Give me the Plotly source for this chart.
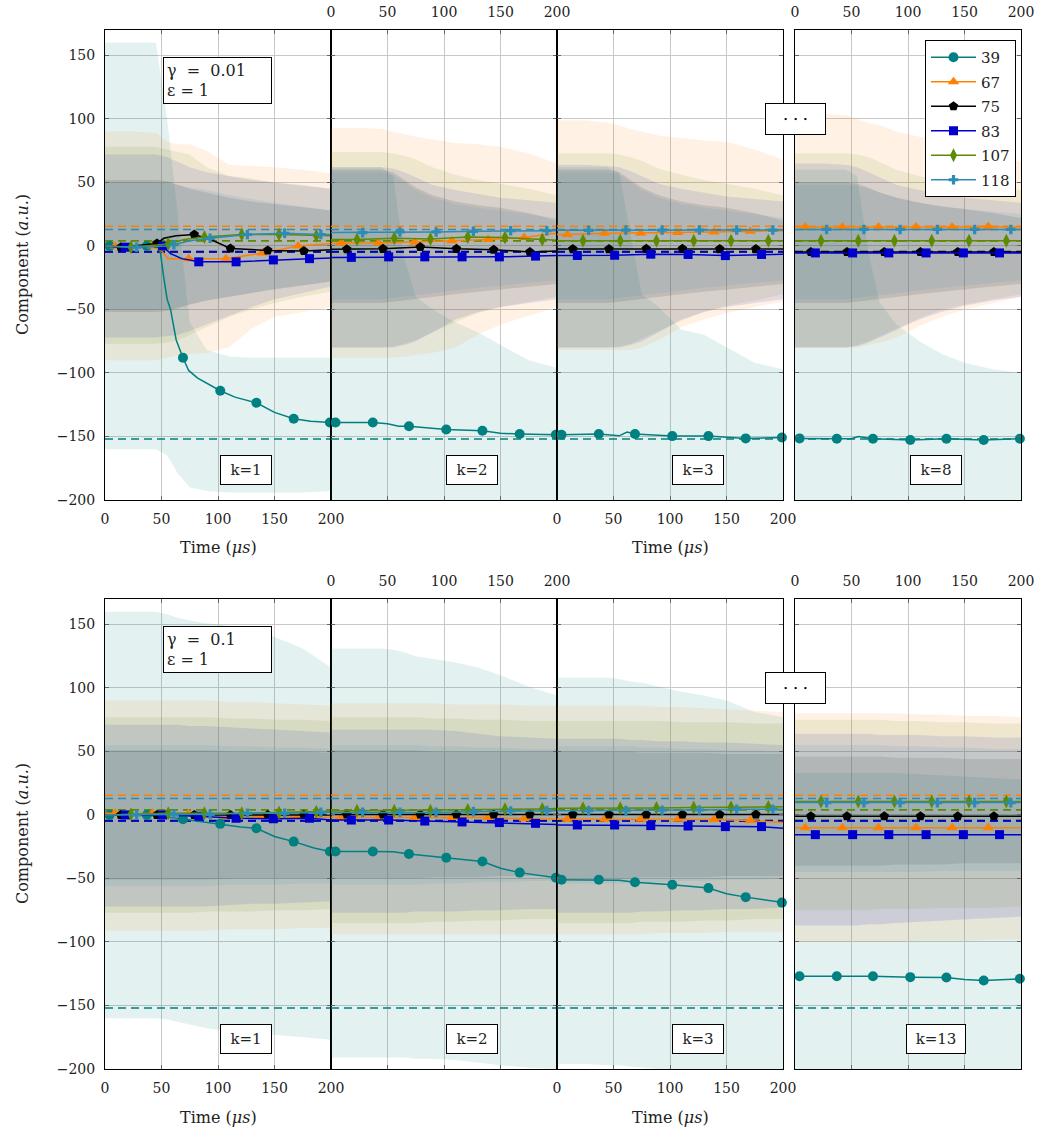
import plotly.graph_objects as go

W, H = 1054, 1129

# ---------------- series definitions ----------------
SERIES = ["39", "67", "75", "83", "107", "118"]
COLORS = ["#008080", "#FF8000", "#000000", "#0000CC", "#5E8A00", "#2C8CB4"]
FILLS = ["rgba(0,128,128,0.11)", "rgba(255,128,0,0.10)", "rgba(0,0,0,0.10)",
         "rgba(0,0,204,0.10)", "rgba(94,138,0,0.10)", "rgba(44,140,180,0.10)"]
SYMBOLS = ["circle", "triangle-up", "pentagon", "square", "diamond-tall", "cross"]
MSIZES = [10, 10, 10, 9, 10, 8]
TRUE_VALUES = [-152, 15.5, -4.5, -4.7, 4, 13]

MT_39 = [4, 37, 69, 102, 134, 167, 199]
MT_67 = [9, 42, 74, 107, 139, 171]
MT_75 = [14, 46, 79, 111, 144, 176]
MT_83 = [18, 51, 83, 116, 149, 181]
MT_107 = [23, 56, 88, 121, 154, 187]
MT_118 = [28, 61, 93, 126, 159, 191]

X_TICKS = [0, 50, 100, 150, 200]
Y_TICKS = [-200, -150, -100, -50, 0, 50, 100, 150]
PANEL_LABELS_TOP = ["k=1", "k=2", "k=3", "k=8"]
PANEL_LABELS_BOT = ["k=1", "k=2", "k=3", "k=13"]
GAMMA_TEXT = ["γ&nbsp;&nbsp;=&nbsp;&nbsp;0.01", "γ&nbsp;&nbsp;=&nbsp;&nbsp;0.1"]
EPS_TEXT = "ε = 1"

# ---------------- top row (gamma = 0.01): estimate lines ----------------
TOP_T_39 = [
    [0, 4, 37, 46, 49, 52, 55, 58, 63, 69, 74, 82, 102, 115, 134, 150, 167, 182, 199, 200],
    [0, 4, 37, 50, 60, 69, 102, 134, 150, 167, 199, 200],
    [0, 4, 37, 55, 62, 69, 102, 134, 167, 199, 200],
    [0, 4, 37, 50, 56, 69, 102, 134, 167, 199, 200],
]
TOP_Y_39 = [
    [0, 0, 0, -1, -5, -25, -42, -50, -74, -88, -98, -104, -114, -119, -123.5, -131, -136, -138, -139, -139],
    [-139, -139, -139, -140, -142, -142, -144.5, -145.5, -147.5, -148, -148.6, -148.6],
    [-148.6, -148.6, -148, -149.5, -146.5, -148, -149.7, -149.7, -151.5, -150.8, -150.8],
    [-151.5, -151.5, -151.8, -151.8, -150, -151.8, -152.8, -151.8, -152.8, -151.8, -151.8],
]
TOP_T_67 = [
    [0, 9, 42, 50, 56, 74, 107, 139, 171, 200],
    [0, 9, 42, 74, 107, 139, 171, 190, 200],
    [0, 9, 42, 74, 107, 139, 171, 200],
    [0, 9, 42, 74, 107, 139, 171, 200],
]
TOP_Y_67 = [
    [0, 0, 0, -4, -10, -10, -10, -5.5, 0, 2],
    [2, 2.4, 2.4, 3, 4, 5, 6.6, 9, 10],
    [9, 9, 10, 10, 10.5, 11, 11.5, 12],
    [15, 15, 15, 15, 15, 15, 15.3, 15],
]
TOP_T_75 = [
    [0, 14, 46, 52, 63, 79, 95, 111, 144, 176, 200],
    [0, 14, 46, 79, 111, 144, 176, 200],
    [0, 14, 46, 79, 111, 144, 176, 200],
    [0, 14, 46, 79, 111, 144, 176, 200],
]
TOP_Y_75 = [
    [0, -1, 2, 6, 8, 9, 4.5, -2, -3.5, -4, -3],
    [-2.6, -2.6, -2.3, -0.8, -2.3, -3, -4.7, -4],
    [-2.5, -2.5, -2.5, -2.3, -2.3, -2.5, -2.5, -2.5],
    [-4.7, -4.7, -4.7, -4.7, -4.7, -4.7, -4.7, -4.7],
]
TOP_T_83 = [
    [0, 18, 51, 58, 68, 83, 116, 149, 181, 200],
    [0, 18, 51, 83, 116, 149, 181, 200],
    [0, 18, 51, 83, 116, 149, 181, 200],
    [0, 18, 51, 83, 116, 149, 181, 200],
]
TOP_Y_83 = [
    [0, -1, 0, -6, -10, -12.5, -12.5, -11, -10, -9.5],
    [-9, -9, -8.6, -8.6, -8.6, -8.6, -8, -7.5],
    [-7.5, -7.5, -7.3, -6.5, -6.7, -7.6, -6.7, -6.5],
    [-5.5, -5.5, -5.5, -5.5, -5.5, -5.5, -5.5, -5.5],
]
TOP_T_107 = [
    [0, 23, 56, 70, 88, 121, 154, 187, 200],
    [0, 23, 56, 88, 121, 154, 187, 200],
    [0, 23, 56, 88, 121, 154, 187, 200],
    [0, 23, 56, 88, 121, 154, 187, 200],
]
TOP_Y_107 = [
    [0, -1, 1.5, 5, 7, 9, 9, 8, 8],
    [5, 5, 6, 5.5, 7, 6.6, 5, 4.5],
    [4, 4, 4, 4, 4, 4, 4, 4],
    [4, 4, 4, 4, 4, 4, 4, 4],
]
TOP_T_118 = [
    [0, 28, 55, 61, 75, 93, 126, 159, 191, 200],
    [0, 28, 61, 93, 126, 159, 191, 200],
    [0, 28, 61, 93, 126, 159, 191, 200],
    [0, 28, 61, 93, 126, 159, 191, 200],
]
TOP_Y_118 = [
    [0, -1, 0, 1, 4, 6, 9, 10, 9, 9],
    [10.5, 10.5, 11, 11, 11.5, 12, 12, 12],
    [12.3, 12.3, 12.5, 12.5, 12.5, 12.5, 12.5, 12.5],
    [13, 13, 13, 13, 13, 13, 13, 13],
]

# ---------------- bottom row (gamma = 0.1): estimate lines ----------------
BOT_T_39 = [
    [0, 4, 37, 50, 69, 102, 120, 134, 150, 167, 185, 199, 200],
    [0, 4, 37, 55, 69, 102, 134, 150, 167, 199, 200],
    [0, 4, 37, 55, 69, 102, 134, 150, 167, 199, 200],
    [0, 4, 37, 69, 102, 134, 150, 167, 199, 200],
]
BOT_Y_39 = [
    [0, 0, 0, -1, -3.4, -7, -9.5, -10.5, -17, -21, -26, -28.8, -29],
    [-29, -28.8, -28.8, -29, -30.7, -33.6, -36.7, -42, -45.4, -49.5, -50],
    [-51, -51, -51, -51.5, -53, -55, -57.6, -62, -64.7, -69, -69],
    [-127, -127, -127, -127, -127.7, -128, -129.5, -130.3, -129, -129],
]
BOT_T_67 = [[0, 9, 42, 74, 107, 139, 171, 200]] * 4
BOT_Y_67 = [
    [1.3, 1.3, 1.3, 1, -1, -1, -1.5, -2],
    [-2, -2, -2, -2, -2, -2, -3, -3.4],
    [-3.4, -3.4, -3.4, -3.4, -3.4, -3.6, -4.4, -6],
    [-10, -10, -10, -10, -10, -10, -10, -10],
]
BOT_T_75 = [[0, 14, 46, 79, 111, 144, 176, 200]] * 4
BOT_Y_75 = [
    [0, 0, 0, 0, 0, 0, 0, 0],
    [0.3, 0.3, 0.3, 0.3, 0.3, 0.3, 0.3, 0.3],
    [0.3, 0.3, 0.3, 0.3, 0.3, 0.3, 0.3, 0.3],
    [-1, -1, -1, -1, -1, -1, -1, -1],
]
BOT_T_83 = [[0, 18, 51, 83, 116, 149, 181, 200]] * 4
BOT_Y_83 = [
    [0, 0, 0, -1, -2.6, -3, -2.6, -4],
    [-4, -4, -4, -4.8, -5.5, -6, -6.6, -7.5],
    [-7.9, -7.9, -7.9, -8.4, -8.7, -9.2, -9.2, -10.5],
    [-15.5, -15.5, -15.5, -15.5, -15.5, -15.5, -15.5, -15.5],
]
BOT_T_107 = [[0, 23, 56, 88, 121, 154, 187, 200]] * 4
BOT_Y_107 = [
    [0, 0.5, 1.3, 1.3, 1.3, 2, 2.6, 3],
    [3.2, 3.4, 3.4, 3.4, 3.9, 4.5, 4.7, 5],
    [5.2, 5.2, 5.2, 5.5, 5.8, 6, 6.3, 6.5],
    [10.5, 10.5, 10.5, 10.5, 10.5, 10.5, 10.5, 10.5],
]
BOT_T_118 = [[0, 28, 61, 93, 126, 159, 191, 200]] * 4
BOT_Y_118 = [
    [0, 0, 0.5, 0.5, 1.3, 1.3, 2, 2],
    [2, 2, 2, 2, 2.6, 3.1, 3.4, 3.4],
    [3.4, 3.4, 3.4, 3.7, 3.9, 4.5, 4.5, 4.5],
    [9.7, 9.7, 9.7, 9.7, 9.7, 9.7, 9.7, 9.7],
]

# ---------------- uncertainty bands ----------------
BAND_T = [0, 25, 45, 55, 65, 75, 90, 110, 130, 150, 175, 200]

TOP_UP_39 = [
    [160, 160, 160, 100, 20, -60, -82, -87, -88, -88, -88, -88],
    [62, 62, 62, 55, -10, -40, -50, -60, -68, -78, -90, -96],
    [62, 62, 62, 58, 10, -38, -48, -66, -70, -80, -92, -97],
    [60, 60, 60, 55, -5, -45, -62, -75, -85, -92, -97, -100],
]
TOP_LO_39 = [
    [-160, -160, -160, -165, -180, -190, -193, -194, -194, -194, -194, -193],
    [-230] * 12, [-230] * 12, [-230] * 12,
]
TOP_UP_67 = [
    [90, 90, 89, 82, 80, 80, 75, 64, 63, 62, 60, 57],
    [93, 93, 92, 90, 88, 86, 84, 81, 80, 78, 73, 65],
    [99, 99, 97, 95, 92, 90, 87, 85, 83, 82, 76, 68],
    [104, 104, 103, 100, 97, 95, 90, 86, 83, 80, 73, 66],
]
TOP_LO_67 = [
    [-90, -90, -90, -88, -86, -85, -84, -80, -65, -56, -52, -48],
    [-88, -88, -88, -88, -87, -86, -84, -80, -70, -62, -55, -48],
    [-82, -82, -82, -82, -82, -80, -74, -64, -58, -53, -48, -44],
    [-80, -80, -80, -80, -78, -76, -72, -63, -56, -50, -45, -40],
]
TOP_UP_75 = [
    [52, 52, 52, 51, 48, 45, 42, 38, 35, 33, 30, 28],
    [60, 60, 60, 58, 52, 46, 40, 35, 32, 30, 26, 20],
    [60, 60, 60, 58, 52, 46, 40, 35, 32, 30, 26, 20],
    [50, 50, 50, 49, 46, 42, 38, 34, 31, 29, 26, 22],
]
TOP_LO_75 = [
    [-52, -52, -52, -51, -49, -46, -43, -40, -37, -34, -31, -28],
    [-45, -45, -45, -44, -43, -42, -40, -38, -36, -34, -32, -30],
    [-45, -45, -45, -44, -43, -42, -40, -38, -36, -34, -32, -30],
    [-45, -45, -45, -44, -43, -42, -40, -38, -36, -34, -32, -30],
]
TOP_UP_83 = [
    [72, 72, 72, 70, 66, 62, 58, 55, 52, 50, 48, 45],
    [62, 62, 62, 61, 58, 54, 48, 44, 41, 38, 36, 34],
    [64, 64, 63, 62, 59, 55, 49, 45, 42, 39, 37, 35],
    [65, 65, 64, 62, 58, 54, 48, 44, 41, 38, 36, 34],
]
TOP_LO_83 = [
    [-72, -72, -72, -71, -70, -67, -62, -55, -48, -42, -37, -32],
    [-80, -80, -80, -80, -78, -75, -68, -58, -52, -48, -45, -42],
    [-80, -80, -80, -80, -78, -75, -68, -58, -52, -48, -45, -42],
    [-80, -80, -80, -79, -76, -72, -66, -58, -52, -47, -43, -40],
]
TOP_UP_107 = [
    [78, 78, 78, 76, 74, 72, 62, 55, 53, 50, 47, 45],
    [74, 74, 74, 73, 71, 68, 62, 56, 52, 49, 45, 40],
    [73, 73, 73, 72, 70, 67, 61, 56, 52, 49, 45, 40],
    [73, 73, 73, 72, 70, 66, 60, 55, 51, 48, 46, 44],
]
TOP_LO_107 = [
    [-77, -77, -77, -76, -74, -70, -64, -56, -50, -45, -40, -36],
    [-80, -80, -80, -79, -77, -74, -68, -60, -53, -48, -44, -40],
    [-80, -80, -80, -79, -77, -73, -67, -59, -52, -47, -43, -38],
    [-80, -80, -80, -78, -75, -71, -65, -57, -50, -46, -42, -38],
]
TOP_UP_118 = [
    [50, 50, 50, 50, 48, 46, 44, 40, 37, 34, 31, 28],
    [58, 58, 58, 56, 50, 44, 38, 33, 30, 28, 25, 22],
    [58, 58, 58, 56, 50, 44, 38, 33, 30, 28, 25, 22],
    [48, 48, 48, 47, 45, 42, 38, 34, 31, 29, 27, 25],
]
TOP_LO_118 = [
    [-50, -50, -50, -50, -48, -46, -43, -40, -37, -34, -31, -28],
    [-42, -42, -42, -41, -40, -39, -37, -35, -33, -31, -29, -27],
    [-42, -42, -42, -41, -40, -39, -37, -35, -33, -31, -29, -27],
    [-42, -42, -42, -41, -40, -39, -37, -35, -33, -31, -29, -27],
]

BOT_UP_39 = [
    [160, 160, 160, 158, 155, 153, 151, 149, 146, 140, 131, 116],
    [131, 131, 131, 130, 128, 125, 123, 120, 116, 110, 101, 94],
    [108, 108, 108, 107, 105, 104, 101, 97, 94, 90, 81, 77],
    [33, 33, 33, 33, 33, 33, 33, 32, 31, 30, 29, 28],
]
BOT_LO_39 = [
    [-160, -160, -160, -161, -163, -165, -168, -170, -172, -173, -175, -177],
    [-191, -191, -191, -191, -191, -192, -192, -193, -195, -197, -199, -200],
    [-196, -196, -197, -197, -198, -199, -200, -201, -202, -203, -204, -205],
    [-230] * 12,
]
BOT_UP_67 = [
    [90, 90, 90, 90, 90, 90, 90, 89, 89, 88, 87, 86],
    [88, 88, 88, 88, 88, 88, 88, 87, 87, 87, 86, 86],
    [86, 86, 86, 86, 86, 86, 85, 85, 84, 83, 82, 81],
    [80, 80, 80, 80, 80, 80, 80, 79, 79, 78, 78, 77],
]
BOT_LO_67 = [
    [-91, -91, -91, -91, -91, -91, -91, -90, -90, -90, -89, -89],
    [-94, -94, -94, -94, -94, -94, -94, -94, -94, -94, -94, -94],
    [-94, -94, -94, -94, -94, -94, -93, -93, -93, -92, -92, -92],
    [-100, -100, -100, -100, -100, -100, -100, -99, -99, -99, -98, -98],
]
BOT_UP_75 = [
    [51, 51, 51, 51, 51, 51, 51, 50, 50, 50, 50, 49],
    [51, 51, 51, 51, 51, 51, 50, 50, 50, 50, 50, 50],
    [50, 50, 50, 50, 50, 49, 49, 49, 49, 48, 48, 48],
    [46, 46, 46, 46, 46, 46, 45, 45, 45, 44, 44, 44],
]
BOT_LO_75 = [
    [-51, -51, -51, -51, -51, -51, -51, -50, -50, -50, -50, -50],
    [-50, -50, -50, -50, -50, -50, -49, -49, -49, -48, -48, -48],
    [-50, -50, -50, -50, -50, -49, -49, -49, -49, -48, -48, -48],
    [-40, -40, -40, -40, -40, -40, -39, -39, -39, -38, -38, -38],
]
BOT_UP_83 = [
    [71, 71, 71, 71, 71, 70, 70, 69, 68, 67, 66, 65],
    [67, 67, 67, 67, 67, 67, 67, 66, 64, 62, 61, 60],
    [60, 60, 60, 60, 59, 59, 58, 58, 57, 57, 56, 55],
    [64, 64, 64, 64, 64, 63, 63, 63, 62, 62, 61, 61],
]
BOT_LO_83 = [
    [-72, -72, -72, -72, -72, -72, -72, -71, -70, -70, -69, -68],
    [-77, -77, -77, -77, -77, -76, -76, -76, -75, -75, -74, -74],
    [-77, -77, -77, -77, -77, -76, -76, -75, -75, -74, -74, -73],
    [-87, -87, -87, -87, -86, -86, -85, -84, -83, -82, -81, -80],
]
BOT_UP_107 = [
    [77, 77, 77, 77, 77, 77, 77, 76, 76, 75, 75, 74],
    [77, 77, 77, 77, 77, 77, 76, 76, 75, 75, 74, 74],
    [74, 74, 74, 74, 74, 74, 74, 73, 73, 73, 72, 72],
    [75, 75, 75, 75, 75, 75, 74, 74, 73, 73, 72, 72],
]
BOT_LO_107 = [
    [-77, -77, -77, -77, -77, -77, -76, -76, -76, -75, -75, -74],
    [-85, -85, -85, -85, -85, -85, -84, -84, -83, -83, -82, -82],
    [-85, -85, -85, -85, -85, -84, -84, -84, -83, -83, -82, -82],
    [-75, -75, -75, -75, -75, -74, -74, -74, -73, -73, -73, -72],
]
BOT_UP_118 = [
    [55, 55, 55, 55, 55, 55, 55, 54, 54, 53, 53, 52],
    [55, 55, 55, 55, 55, 55, 54, 54, 53, 53, 52, 52],
    [54, 54, 54, 54, 54, 53, 53, 52, 52, 51, 51, 50],
    [55, 55, 55, 55, 55, 55, 54, 54, 53, 53, 52, 52],
]
BOT_LO_118 = [
    [-56, -56, -56, -56, -56, -56, -56, -55, -55, -55, -54, -54],
    [-55, -55, -55, -55, -55, -55, -54, -54, -53, -53, -52, -52],
    [-54, -54, -54, -54, -54, -53, -53, -52, -52, -51, -51, -50],
    [-45, -45, -45, -45, -45, -45, -45, -45, -44, -44, -44, -44],
]

# ---------------- assemble tables ----------------
MARKER_TIMES = [MT_39, MT_67, MT_75, MT_83, MT_107, MT_118]
ROWS = [
    dict(T=[TOP_T_39, TOP_T_67, TOP_T_75, TOP_T_83, TOP_T_107, TOP_T_118],
         Y=[TOP_Y_39, TOP_Y_67, TOP_Y_75, TOP_Y_83, TOP_Y_107, TOP_Y_118],
         UP=[TOP_UP_39, TOP_UP_67, TOP_UP_75, TOP_UP_83, TOP_UP_107, TOP_UP_118],
         LO=[TOP_LO_39, TOP_LO_67, TOP_LO_75, TOP_LO_83, TOP_LO_107, TOP_LO_118],
         labels=PANEL_LABELS_TOP),
    dict(T=[BOT_T_39, BOT_T_67, BOT_T_75, BOT_T_83, BOT_T_107, BOT_T_118],
         Y=[BOT_Y_39, BOT_Y_67, BOT_Y_75, BOT_Y_83, BOT_Y_107, BOT_Y_118],
         UP=[BOT_UP_39, BOT_UP_67, BOT_UP_75, BOT_UP_83, BOT_UP_107, BOT_UP_118],
         LO=[BOT_LO_39, BOT_LO_67, BOT_LO_75, BOT_LO_83, BOT_LO_107, BOT_LO_118],
         labels=PANEL_LABELS_BOT),
]

# ---------------- geometry (pixels) ----------------
PANEL_X = [(105, 331), (331, 557), (557, 783), (795, 1021)]
ROW_Y = [(30, 500), (599, 1069)]
FONT = "DejaVu Serif"
TXT = "#222"

fig = go.Figure()


def ax_id(r, p):
    i = r * 4 + p + 1
    return ("x" if i == 1 else f"x{i}"), ("y" if i == 1 else f"y{i}")


for r, row in enumerate(ROWS):
    for p in range(4):
        xa, ya = ax_id(r, p)
        for s in range(6):
            up = row["UP"][s][p]
            lo = row["LO"][s][p]
            fig.add_trace(go.Scatter(
                x=BAND_T + BAND_T[::-1], y=up + lo[::-1], fill="toself",
                fillcolor=FILLS[s], line=dict(width=0), mode="lines",
                hoverinfo="skip", showlegend=False, xaxis=xa, yaxis=ya))
        for s in range(6):
            fig.add_trace(go.Scatter(
                x=[X_TICKS[0], X_TICKS[-1]], y=[TRUE_VALUES[s]] * 2, mode="lines",
                line=dict(color=COLORS[s], width=1.6, dash="8px,5px"),
                hoverinfo="skip", showlegend=False, xaxis=xa, yaxis=ya))
        for s in range(6):
            tt = row["T"][s][p]
            yy = row["Y"][s][p]
            fig.add_trace(go.Scatter(
                x=tt, y=yy, mode="lines", line=dict(color=COLORS[s], width=1.5),
                hoverinfo="skip", showlegend=False, xaxis=xa, yaxis=ya))
            mx = [t for t in tt if t in MARKER_TIMES[s]]
            my = [v for t, v in zip(tt, yy) if t in MARKER_TIMES[s]]
            fig.add_trace(go.Scatter(
                x=mx, y=my, mode="markers", cliponaxis=False,
                marker=dict(symbol=SYMBOLS[s], size=MSIZES[s], color=COLORS[s],
                            line=dict(width=0)),
                hoverinfo="skip", showlegend=False, xaxis=xa, yaxis=ya))

# legend entries
for s in range(6):
    fig.add_trace(go.Scatter(
        x=[None], y=[None], mode="lines+markers", name=SERIES[s],
        legendgroup=SERIES[s],
        line=dict(color=COLORS[s], width=1.5),
        marker=dict(symbol=SYMBOLS[s], size=MSIZES[s], color=COLORS[s], line=dict(width=0)),
        xaxis="x4", yaxis="y4"))

layout = dict(
    template="none",
    width=W, height=H, autosize=False,
    margin=dict(l=0, r=0, t=0, b=0, pad=0, autoexpand=False),
    paper_bgcolor="white", plot_bgcolor="white",
    font=dict(family=FONT, size=14, color=TXT),
    hovermode=False,
    legend=dict(x=1016 / W, xanchor="right", y=1 - 40 / H, yanchor="top",
                bgcolor="white", bordercolor="black", borderwidth=1,
                font=dict(family=FONT, size=15, color=TXT),
                tracegroupgap=2, itemwidth=45),
)

annotations = []
for r in range(2):
    y0, y1 = ROW_Y[r]
    for p in range(4):
        i = r * 4 + p + 1
        x0, x1 = PANEL_X[p]
        sfx = "" if i == 1 else str(i)
        layout["xaxis" + sfx] = dict(
            domain=[x0 / W, x1 / W], range=[0, 200], tickvals=X_TICKS,
            anchor="y" + sfx, side=("bottom" if p in (0, 2) else "top"),
            automargin=False,
            showgrid=True, gridcolor="rgb(200,200,200)", gridwidth=1,
            showline=True, linecolor="black", linewidth=1, mirror="ticks",
            ticks="inside", ticklen=4, tickcolor="#666",
            zeroline=False, ticklabelstandoff=6,
            tickfont=dict(family=FONT, size=14, color=TXT),
        )
        layout["yaxis" + sfx] = dict(
            domain=[1 - y1 / H, 1 - y0 / H], range=[-200, 170], tickvals=Y_TICKS,
            anchor="x" + sfx, showticklabels=(p == 0), automargin=False,
            showgrid=True, gridcolor="rgb(200,200,200)", gridwidth=1,
            showline=True, linecolor="black", linewidth=1, mirror="ticks",
            ticks="inside", ticklen=4, tickcolor="#666",
            zeroline=False, ticklabelstandoff=6,
            tickfont=dict(family=FONT, size=14, color=TXT),
        )
        lab = ROWS[r]["labels"][p]
        annotations.append(dict(
            x=125, y=-176, xref="x" + sfx, yref="y" + sfx,
            xanchor="center", yanchor="middle",
            text=lab, showarrow=False,
            font=dict(family=FONT, size=15, color=TXT),
            bgcolor="white", bordercolor="black", borderwidth=1, borderpad=0,
            width=50 if len(lab) <= 3 else 58, height=28))
    annotations.append(dict(
        x=163 / W, y=1 - (y0 + 27) / H, xref="paper", yref="paper",
        xanchor="left", yanchor="top", align="left",
        text=GAMMA_TEXT[r] + "<br>" + EPS_TEXT, showarrow=False,
        font=dict(family=FONT, size=16, color=TXT),
        bgcolor="white", bordercolor="black", borderwidth=1, borderpad=3,
        width=101, height=39))
    annotations.append(dict(
        x=795 / W, y=1 - (y0 + 89) / H, xref="paper", yref="paper",
        xanchor="center", yanchor="middle",
        text="•  •  •", showarrow=False,
        font=dict(family=FONT, size=8, color="black"),
        bgcolor="white", bordercolor="black", borderwidth=1, borderpad=0,
        width=59, height=30))
    for cx in (218, 670):
        annotations.append(dict(
            x=cx / W, y=1 - (y1 + 48) / H, xref="paper", yref="paper",
            xanchor="center", yanchor="middle",
            text="Time (<i>μs</i>)", showarrow=False,
            font=dict(family=FONT, size=16, color=TXT)))
    annotations.append(dict(
        x=22 / W, y=1 - ((y0 + y1) / 2) / H, xref="paper", yref="paper",
        xanchor="center", yanchor="middle",
        text="Component (<i>a.u.</i>)", textangle=-90, showarrow=False,
        font=dict(family=FONT, size=16, color=TXT)))

layout["annotations"] = annotations
fig.update_layout(**layout)
fig.write_html("out.html", config={"displayModeBar": False, "responsive": False},
               post_script="document.body.style.margin='0px';document.body.style.overflow='hidden';")
